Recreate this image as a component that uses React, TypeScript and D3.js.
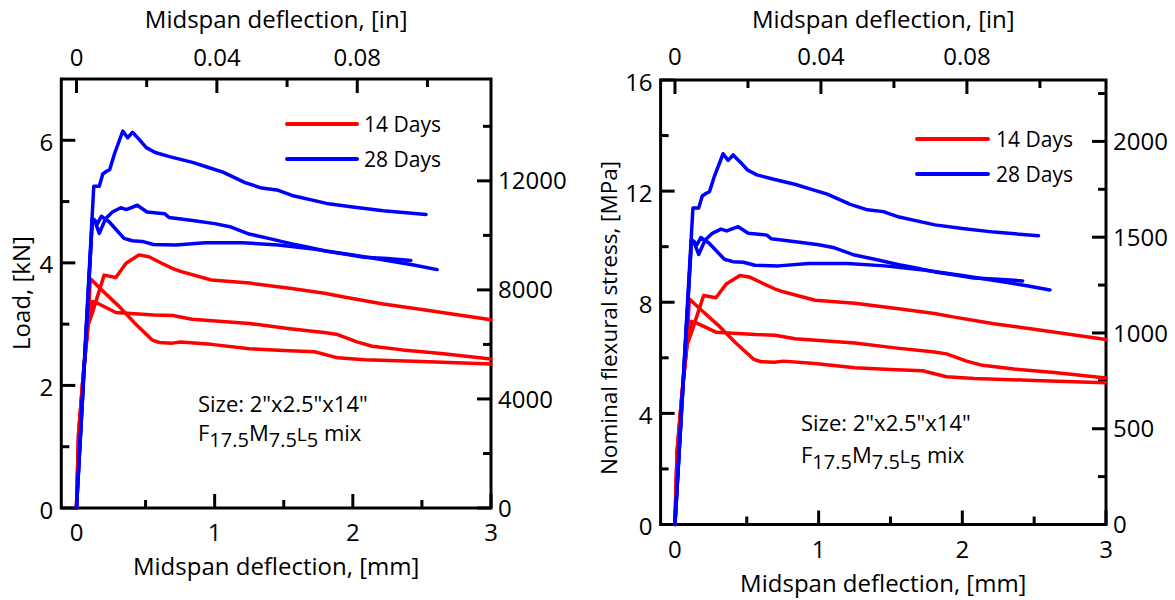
import React from 'react';
import * as d3 from 'd3';

// ---------------- axis definitions ----------------
const MM_MAJOR = [0, 1, 2, 3];
const MM_MINOR = [0.5, 1.5, 2.5];
const IN_MAJOR = [0, 0.04, 0.08];
const IN_MINOR = [0.02, 0.06, 0.1];
const IN_LABELS = ['0', '0.04', '0.08'];
const MM_PER_IN = 25.4;

const LOAD_MAJOR = [0, 2, 4, 6];
const LOAD_MINOR = [1, 3, 5];
const LOAD_SEC_MAJOR = [0, 4000, 8000, 12000];
const LOAD_SEC_MINOR = [2000, 6000, 10000, 14000];
const LOAD_SEC_PER_KN = 2248;

const STRESS_MAJOR = [0, 4, 8, 12, 16];
const STRESS_MINOR = [2, 6, 10, 14];
const PSI_MAJOR = [0, 500, 1000, 1500, 2000];
const PSI_MINOR = [250, 750, 1250, 1750, 2250];
const PSI_PER_MPA = 145.04;
const MPA_PER_KN = 2.17;

// ---------------- data (deflection mm, load kN) ----------------
const d28a_mm = [0, 0.125, 0.165, 0.19, 0.215, 0.24, 0.275, 0.335, 0.37, 0.405, 0.455, 0.505, 0.57, 0.68, 0.84, 0.95, 1.06, 1.22, 1.34, 1.45, 1.56, 1.81, 2.0, 2.22, 2.53];
const d28a_kN = [0, 5.25, 5.25, 5.45, 5.49, 5.52, 5.78, 6.15, 6.04, 6.13, 6.01, 5.88, 5.8, 5.73, 5.64, 5.56, 5.48, 5.31, 5.22, 5.19, 5.1, 4.97, 4.91, 4.85, 4.79];

const d28b_mm = [0, 0.115, 0.13, 0.165, 0.21, 0.26, 0.32, 0.36, 0.44, 0.51, 0.6, 0.64, 0.67, 0.84, 1.0, 1.11, 1.25, 1.39, 1.56, 1.67, 1.81, 1.95, 2.08, 2.25, 2.42];
const d28b_kN = [0, 4.72, 4.7, 4.48, 4.72, 4.83, 4.9, 4.87, 4.94, 4.83, 4.81, 4.8, 4.74, 4.69, 4.64, 4.59, 4.47, 4.4, 4.31, 4.26, 4.19, 4.14, 4.09, 4.07, 4.04];

const d28c_mm = [0, 0.115, 0.13, 0.152, 0.18, 0.236, 0.344, 0.404, 0.476, 0.556, 0.72, 0.93, 1.2, 1.46, 1.73, 2.0, 2.27, 2.45, 2.61];
const d28c_kN = [0, 4.72, 4.7, 4.64, 4.76, 4.67, 4.4, 4.36, 4.35, 4.3, 4.29, 4.33, 4.33, 4.29, 4.22, 4.13, 4.03, 3.96, 3.89];

const d14a_mm = [0, 0.015, 0.05, 0.085, 0.11, 0.2, 0.285, 0.357, 0.452, 0.524, 0.62, 0.693, 0.753, 0.975, 1.252, 1.557, 1.806, 1.945, 2.22, 2.5, 3.0];
const d14a_kN = [0, 1.2, 2.2, 3.0, 3.15, 3.8, 3.76, 3.99, 4.13, 4.1, 3.99, 3.91, 3.86, 3.72, 3.67, 3.58, 3.5, 3.44, 3.33, 3.24, 3.07];

const d14b_mm = [0, 0.015, 0.05, 0.085, 0.1, 0.2, 0.308, 0.42, 0.548, 0.6, 0.693, 0.753, 0.975, 1.252, 1.5, 1.723, 1.89, 2.084, 2.5, 3.0];
const d14b_kN = [0, 1.2, 2.2, 3.05, 3.74, 3.52, 3.29, 3.02, 2.74, 2.7, 2.69, 2.71, 2.67, 2.6, 2.57, 2.55, 2.45, 2.42, 2.39, 2.35];

const d14c_mm = [0, 0.015, 0.05, 0.085, 0.1, 0.115, 0.152, 0.285, 0.559, 0.697, 0.836, 1.252, 1.53, 1.806, 1.89, 2.03, 2.14, 2.36, 2.64, 3.0];
const d14c_kN = [0, 1.2, 2.2, 3.0, 3.1, 3.37, 3.34, 3.19, 3.15, 3.14, 3.08, 3.01, 2.93, 2.86, 2.83, 2.71, 2.64, 2.58, 2.52, 2.43];

const SERIES_NAMES = ['14 Days', '28 Days'];
const SERIES_COLORS = ['#ff0000', '#0000ff'];

const CURVES = [
  { group: 0, mm: d14a_mm, kN: d14a_kN },
  { group: 0, mm: d14b_mm, kN: d14b_kN },
  { group: 0, mm: d14c_mm, kN: d14c_kN },
  { group: 1, mm: d28a_mm, kN: d28a_kN },
  { group: 1, mm: d28b_mm, kN: d28b_kN },
  { group: 1, mm: d28c_mm, kN: d28c_kN },
];

const FONT = "'Open Sans', sans-serif";

type Cfg = {
  left: number; right: number; top: number; bottom: number;
  xDomain: [number, number]; yDomain: [number, number];
  factor: number; secPer: number;
  yMajor: number[]; yMinor: number[]; secMajor: number[]; secMinor: number[];
  yLabel: string; yLabelSize: number;
  topTitleY: number; topTickY: number; bottomTickY: number; bottomTitleY: number;
  yLabelX: number; yLabelY: number;
  legX1: number; legX2: number; legTx: number; legY: number[];
  noteX: number; noteY1: number; noteY2: number;
};

const LEFT: Cfg = {
  left: 61.3, right: 491, top: 79, bottom: 508,
  xDomain: [-0.11, 3], yDomain: [0, 7],
  factor: 1, secPer: LOAD_SEC_PER_KN,
  yMajor: LOAD_MAJOR, yMinor: LOAD_MINOR, secMajor: LOAD_SEC_MAJOR, secMinor: LOAD_SEC_MINOR,
  yLabel: 'Load, [kN]', yLabelSize: 24,
  topTitleY: 28, topTickY: 66, bottomTickY: 541, bottomTitleY: 575,
  yLabelX: 30, yLabelY: 293,
  legX1: 287, legX2: 357, legTx: 364, legY: [124, 159],
  noteX: 198, noteY1: 412, noteY2: 441,
};

const RIGHT: Cfg = {
  left: 660.6, right: 1106, top: 80, bottom: 524.5,
  xDomain: [-0.1, 3], yDomain: [0, 16],
  factor: MPA_PER_KN, secPer: PSI_PER_MPA,
  yMajor: STRESS_MAJOR, yMinor: STRESS_MINOR, secMajor: PSI_MAJOR, secMinor: PSI_MINOR,
  yLabel: 'Nominal flexural stress, [MPa]', yLabelSize: 22.5,
  topTitleY: 28, topTickY: 65, bottomTickY: 558, bottomTitleY: 592,
  yLabelX: 617, yLabelY: 318,
  legX1: 917, legX2: 988, legTx: 996, legY: [139, 174],
  noteX: 801, noteY1: 431, noteY2: 463,
};

const MAJ = 14;
const MIN = 8;
const SW = 3;

function Panel({ c }: { c: Cfg }) {
  const x = d3.scaleLinear().domain(c.xDomain).range([c.left, c.right]);
  const xIn = d3.scaleLinear().domain(c.xDomain.map((v) => v / MM_PER_IN)).range([c.left, c.right]);
  const y = d3.scaleLinear().domain(c.yDomain).range([c.bottom, c.top]);
  const ySec = d3.scaleLinear().domain(c.yDomain.map((v) => v * c.secPer)).range([c.bottom, c.top]);

  const line = d3
    .line<[number, number]>()
    .x((d) => x(d[0]))
    .y((d) => y(d[1] * c.factor));

  const fsTick = 24;
  const digitHalf = fsTick * 0.357;

  return (
    <g fontFamily={FONT} fill="#000">
      {/* frame */}
      <rect x={c.left} y={c.top} width={c.right - c.left} height={c.bottom - c.top} fill="none" stroke="#000" strokeWidth={SW} />

      {/* bottom ticks */}
      {MM_MAJOR.map((v) => (
        <line key={'bM' + v} x1={x(v)} x2={x(v)} y1={c.bottom} y2={c.bottom - MAJ} stroke="#000" strokeWidth={SW} />
      ))}
      {MM_MINOR.map((v) => (
        <line key={'bm' + v} x1={x(v)} x2={x(v)} y1={c.bottom} y2={c.bottom - MIN} stroke="#000" strokeWidth={SW} />
      ))}
      {MM_MAJOR.map((v) => (
        <text key={'bl' + v} x={x(v)} y={c.bottomTickY} fontSize={fsTick} textAnchor="middle">{String(v)}</text>
      ))}
      <text x={(c.left + c.right) / 2} y={c.bottomTitleY} fontSize={24} textAnchor="middle">Midspan deflection, [mm]</text>

      {/* top ticks (inches) */}
      {IN_MAJOR.map((v) => (
        <line key={'tM' + v} x1={xIn(v)} x2={xIn(v)} y1={c.top} y2={c.top + MAJ} stroke="#000" strokeWidth={SW} />
      ))}
      {IN_MINOR.map((v) => (
        <line key={'tm' + v} x1={xIn(v)} x2={xIn(v)} y1={c.top} y2={c.top + MIN} stroke="#000" strokeWidth={SW} />
      ))}
      {IN_MAJOR.map((v, i) => (
        <text key={'tl' + v} x={xIn(v)} y={c.topTickY} fontSize={fsTick} textAnchor="middle">{IN_LABELS[i]}</text>
      ))}
      <text x={(c.left + c.right) / 2} y={c.topTitleY} fontSize={24} textAnchor="middle">Midspan deflection, [in]</text>

      {/* left ticks */}
      {c.yMajor.map((v) => (
        <line key={'lM' + v} x1={c.left} x2={c.left + MAJ} y1={y(v)} y2={y(v)} stroke="#000" strokeWidth={SW} />
      ))}
      {c.yMinor.map((v) => (
        <line key={'lm' + v} x1={c.left} x2={c.left + MIN} y1={y(v)} y2={y(v)} stroke="#000" strokeWidth={SW} />
      ))}
      {c.yMajor.map((v) => (
        <text key={'ll' + v} x={c.left - 8} y={y(v) + 2 + digitHalf} fontSize={fsTick} textAnchor="end">{String(v)}</text>
      ))}
      <text transform={`translate(${c.yLabelX},${c.yLabelY}) rotate(-90)`} fontSize={c.yLabelSize} textAnchor="middle">{c.yLabel}</text>

      {/* right ticks */}
      {c.secMajor.map((v) => (
        <line key={'rM' + v} x1={c.right} x2={c.right - MAJ} y1={ySec(v)} y2={ySec(v)} stroke="#000" strokeWidth={SW} />
      ))}
      {c.secMinor.map((v) => (
        <line key={'rm' + v} x1={c.right} x2={c.right - MIN} y1={ySec(v)} y2={ySec(v)} stroke="#000" strokeWidth={SW} />
      ))}
      {c.secMajor.map((v) => (
        <text key={'rl' + v} x={c.right + 7} y={ySec(v) + digitHalf} fontSize={fsTick} textAnchor="start">{String(v)}</text>
      ))}

      {/* curves */}
      {CURVES.map((cv, i) => (
        <path
          key={'c' + i}
          d={line(cv.mm.map((m, j) => [m, cv.kN[j]] as [number, number])) || ''}
          fill="none"
          stroke={SERIES_COLORS[cv.group]}
          strokeWidth={3.5}
          strokeLinejoin="round"
          strokeLinecap="round"
        />
      ))}

      {/* legend */}
      {SERIES_NAMES.map((n, i) => (
        <g key={'lg' + i}>
          <line x1={c.legX1} x2={c.legX2} y1={c.legY[i]} y2={c.legY[i]} stroke={SERIES_COLORS[i]} strokeWidth={4} strokeLinecap="round" />
          <text x={c.legTx} y={c.legY[i] + 7.5} fontSize={21}>{n}</text>
        </g>
      ))}

      {/* note */}
      <text x={c.noteX} y={c.noteY1} fontSize={22}>Size: 2"x2.5"x14"</text>
      <text x={c.noteX} y={c.noteY2} fontSize={22}>
        <tspan>F</tspan>
        <tspan dy={6} fontSize={20}>17.5</tspan>
        <tspan dy={-6}>M</tspan>
        <tspan dy={6} fontSize={20}>7.5</tspan>
        <tspan dy={-6} fontSize={19}>L</tspan>
        <tspan dy={6} fontSize={20}>5</tspan>
        <tspan dy={-6}> mix</tspan>
      </text>
    </g>
  );
}

export default function App() {
  return (
    <svg width={1175} height={600} style={{ position: 'absolute', left: 0, top: 0, background: '#fff' }}>
      <rect x={0} y={0} width={1175} height={600} fill="#fff" />
      <Panel c={LEFT} />
      <Panel c={RIGHT} />
    </svg>
  );
}
